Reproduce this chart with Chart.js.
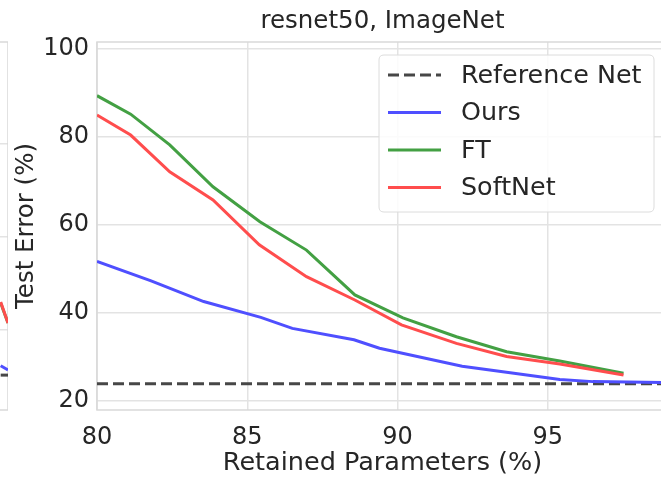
<!DOCTYPE html>
<html>
<head>
<meta charset="utf-8">
<script src="https://cdn.jsdelivr.net/npm/chart.js@4/dist/chart.umd.min.js"></script>
<style>
  html, body { margin: 0; padding: 0; background: #ffffff; }
  #wrap { position: relative; width: 661px; height: 479px; overflow: hidden; }
  #c { position: absolute; left: 0; top: 0; }
  #nb { position: absolute; left: -53px; top: 0; }
</style>
</head>
<body>
<div id="wrap">
  <canvas id="nb" width="61" height="479"></canvas>
  <canvas id="c" width="672" height="479"></canvas>
</div>
<script>
// ---- data ----
const TITLE = 'resnet50, ImageNet';
const X_LABEL = 'Retained Parameters (%)';
const Y_LABEL = 'Test Error (%)';
const X_TICKS = [80, 85, 90, 95];
const Y_TICKS = [20, 40, 60, 80, 100];

const REF_X = [80, 99];
const REF_Y = [23.9, 23.9];

const OURS_X = [80, 81.8, 83.55, 85.45, 86.5, 88.55, 89.4, 90.2, 92.15, 93.75, 95.4, 96.5, 98.8, 99];
const OURS_Y = [51.7, 47.3, 42.6, 39.0, 36.5, 33.9, 32.0, 30.8, 27.9, 26.4, 24.9, 24.4, 24.2, 24.1];

const FT_X = [80, 81.12, 82.42, 83.86, 85.42, 86.97, 88.58, 90.18, 91.96, 93.63, 95.4, 97.52];
const FT_Y = [89.4, 85.2, 78.2, 68.7, 60.75, 54.3, 44.1, 38.9, 34.6, 31.2, 29.1, 26.3];

const SN_X = [80, 81.12, 82.42, 83.86, 85.4, 86.97, 88.58, 90.13, 91.96, 93.63, 95.4, 97.52];
const SN_Y = [85.0, 80.45, 72.1, 65.7, 55.5, 48.25, 42.95, 37.3, 33.1, 30.1, 28.4, 25.9];

// neighbouring panel (only its right edge is visible in the crop)
const NB_X = [0.88, 1.0];
const NB_REF_Y = [30.3, 30.3];
const NB_OURS_Y = [32.3, 31.4];
const NB_FT_Y = [45.8, 41.5];
const NB_SN_Y = [46.0, 41.5];
const NB_Y_TICKS = [40, 60, 80];

const X_MIN = 80, X_MAX = 99;
const Y_MIN = 17.95, Y_MAX = 101.6;

// ---- styling ----
const FONT = 'DejaVu Sans';
const TXT = '#262626';
const GRID = '#e3e3e3';
const FRAME = '#d9d9d9';
const C_REF = '#474747', C_OURS = '#4f4fff', C_FT = '#43a043', C_SN = '#ff4d4d';

const pts = (xs, ys) => xs.map((x, i) => ({ x: x, y: ys[i] }));

const framePlugin = {
  id: 'frame',
  beforeDatasetsDraw(chart) {
    const { ctx, chartArea: a } = chart;
    ctx.save();
    ctx.strokeStyle = FRAME;
    ctx.lineWidth = 1.5;
    ctx.strokeRect(a.left, a.top, a.right - a.left, a.bottom - a.top);
    ctx.restore();
  }
};

const legendPlugin = {
  id: 'boxLegend',
  afterDraw(chart) {
    const { ctx, chartArea: a } = chart;
    const w = 275, h = 157;
    const bx = a.right - 14 - w, by = a.top + 13;
    ctx.save();
    const r = 5;
    ctx.beginPath();
    ctx.moveTo(bx + r, by);
    ctx.lineTo(bx + w - r, by);
    ctx.quadraticCurveTo(bx + w, by, bx + w, by + r);
    ctx.lineTo(bx + w, by + h - r);
    ctx.quadraticCurveTo(bx + w, by + h, bx + w - r, by + h);
    ctx.lineTo(bx + r, by + h);
    ctx.quadraticCurveTo(bx, by + h, bx, by + h - r);
    ctx.lineTo(bx, by + r);
    ctx.quadraticCurveTo(bx, by, bx + r, by);
    ctx.closePath();
    ctx.fillStyle = 'rgba(255,255,255,0.85)';
    ctx.fill();
    ctx.strokeStyle = '#dcdcdc';
    ctx.lineWidth = 1;
    ctx.stroke();
    chart.data.datasets.forEach((ds, i) => {
      const y = by + 20 + i * 37.5;
      ctx.beginPath();
      ctx.setLineDash(ds.borderDash || []);
      ctx.strokeStyle = ds.borderColor;
      ctx.lineWidth = ds.borderWidth;
      ctx.moveTo(bx + 9, y);
      ctx.lineTo(bx + 62, y);
      ctx.stroke();
      ctx.setLineDash([]);
      ctx.fillStyle = TXT;
      ctx.font = '25.4px "' + FONT + '"';
      ctx.textBaseline = 'middle';
      ctx.textAlign = 'left';
      ctx.fillText(ds.label, bx + 82, y + 1);
    });
    ctx.restore();
  }
};

// neighbour panel (clipped, right edge only)
new Chart(document.getElementById('nb'), {
  type: 'line',
  data: {
    datasets: [
      { data: pts(NB_X, NB_REF_Y), borderColor: C_REF, borderDash: [11, 5], borderWidth: 3, order: 4 },
      { data: pts(NB_X, NB_OURS_Y), borderColor: C_OURS, borderWidth: 3, order: 3 },
      { data: pts(NB_X, NB_FT_Y), borderColor: C_FT, borderWidth: 3, order: 2 },
      { data: pts(NB_X, NB_SN_Y), borderColor: C_SN, borderWidth: 3, order: 1 }
    ]
  },
  options: {
    responsive: false, animation: false, devicePixelRatio: 1,
    layout: { padding: { left: 0, right: 0, top: 42, bottom: 69 } },
    elements: { point: { radius: 0 }, line: { tension: 0 } },
    plugins: { legend: { display: false }, tooltip: { enabled: false }, title: { display: false } },
    scales: {
      x: { type: 'linear', min: 0, max: 1, display: true, grid: { display: false }, border: { display: false }, ticks: { display: false }, afterFit: s => { s.height = 0; } },
      y: {
        type: 'linear', min: 22.8, max: 101.9,
        afterBuildTicks: s => { s.ticks = NB_Y_TICKS.map(v => ({ value: v })); },
        afterFit: s => { s.width = 0; },
        grid: { color: GRID, lineWidth: 1.5, drawTicks: false }, border: { display: false },
        ticks: { display: false }
      }
    }
  },
  plugins: [framePlugin]
});

// main panel
new Chart(document.getElementById('c'), {
  type: 'line',
  data: {
    datasets: [
      { label: 'Reference Net', data: pts(REF_X, REF_Y), borderColor: C_REF, borderDash: [11, 5], borderWidth: 3, order: 4 },
      { label: 'Ours', data: pts(OURS_X, OURS_Y), borderColor: C_OURS, borderWidth: 3, order: 3 },
      { label: 'FT', data: pts(FT_X, FT_Y), borderColor: C_FT, borderWidth: 3, order: 2 },
      { label: 'SoftNet', data: pts(SN_X, SN_Y), borderColor: C_SN, borderWidth: 3, order: 1 }
    ]
  },
  options: {
    responsive: false,
    animation: false,
    devicePixelRatio: 1,
    layout: { padding: { left: 0, right: 4, top: 0, bottom: 0 } },
    elements: { point: { radius: 0 }, line: { tension: 0, borderCapStyle: 'butt' } },
    plugins: {
      legend: { display: false },
      tooltip: { enabled: false },
      title: {
        display: true, text: TITLE, color: TXT, fullSize: false,
        font: { family: FONT, size: 24.5, weight: 'normal', lineHeight: 1.2 },
        padding: { top: 7.3, bottom: 5.3 }
      }
    },
    scales: {
      x: {
        type: 'linear', min: X_MIN, max: X_MAX,
        afterBuildTicks: s => { s.ticks = X_TICKS.map(v => ({ value: v })); },
        afterFit: s => { s.height = 69; },
        grid: { color: GRID, lineWidth: 1.5, drawTicks: false },
        border: { display: false },
        ticks: { color: TXT, padding: 13, maxRotation: 0, font: { family: FONT, size: 24 } },
        title: { display: true, text: X_LABEL, color: TXT, padding: { top: 0, bottom: 0.5 }, font: { family: FONT, size: 25.5, lineHeight: 1.2 } }
      },
      y: {
        type: 'linear', min: Y_MIN, max: Y_MAX,
        afterBuildTicks: s => { s.ticks = Y_TICKS.map(v => ({ value: v })); },
        afterFit: s => { s.width = 97; },
        grid: { color: GRID, lineWidth: 1.5, drawTicks: false },
        border: { display: false },
        ticks: { color: TXT, padding: 8, font: { family: FONT, size: 24 } },
        title: { display: true, text: Y_LABEL, color: TXT, padding: { top: 11.5, bottom: 0 }, font: { family: FONT, size: 24.5, lineHeight: 1.2 } }
      }
    }
  },
  plugins: [framePlugin, legendPlugin]
});
</script>
</body>
</html>
